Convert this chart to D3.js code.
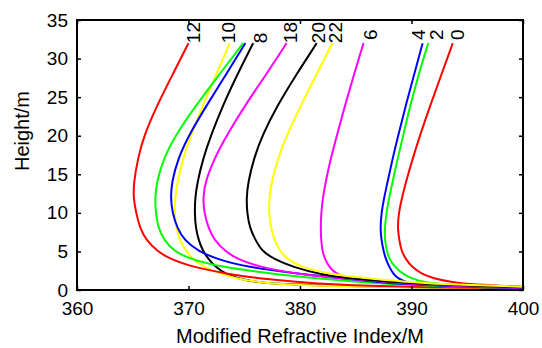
<!DOCTYPE html>
<html>
<head>
<meta charset="utf-8">
<script src="https://cdn.jsdelivr.net/npm/d3@7"></script>
<style>
body { margin: 0; background: #fff; }
text { font-family: Arial, "Liberation Sans", sans-serif; fill: #000; }
</style>
</head>
<body>
<svg id="chart" width="542" height="348"></svg>
<script>
const heights = [0.2, 0.4, 0.7, 1, 1.5, 2, 3, 4, 5, 6.5, 8, 10, 12, 14, 17, 20, 24, 28, 32];

// modified refractive index M for each hour
const m00 = [405, 400.5, 395.3, 393.7, 392.0, 391.0, 390.0, 389.5, 389.1, 388.9, 388.75, 388.85, 389.15, 389.5, 390.1, 390.75, 391.7, 392.7, 393.7];
const m02 = [402, 397, 393, 391.1, 390.0, 389.3, 388.5, 388.0, 387.8, 387.6, 387.6, 387.75, 388.0, 388.3, 388.75, 389.25, 389.9, 390.65, 391.5];
const m04 = [403, 396, 390.6, 389.5, 388.8, 388.4, 388.0, 387.7, 387.5, 387.3, 387.2, 387.3, 387.55, 387.85, 388.3, 388.8, 389.5, 390.25, 391.0];
const m06 = [404, 397, 390.5, 387.5, 384.4, 383.3, 382.6, 382.25, 382.0, 381.9, 381.85, 381.9, 382.05, 382.3, 382.75, 383.3, 384.05, 384.85, 385.7];
const m08 = [401, 386, 379, 376, 374.5, 373.4, 372.4, 371.8, 371.3, 370.9, 370.65, 370.55, 370.6, 370.8, 371.3, 372.0, 373.1, 374.4, 375.8];
const m10 = [401, 384.5, 378.5, 376.3, 374.3, 373.1, 371.3, 370.4, 369.8, 369.2, 368.9, 368.75, 368.8, 369.0, 369.5, 370.2, 371.3, 372.5, 373.7];
const m12 = [402, 388.5, 383, 380, 376.4, 373.8, 370.3, 368.4, 367.2, 366.2, 365.65, 365.3, 365.05, 365.1, 365.45, 366.0, 367.2, 368.6, 370.0];
const m14 = [402, 394, 389, 385.5, 381.8, 378, 372.8, 370.2, 368.7, 367.8, 367.3, 367.05, 367.0, 367.15, 367.75, 368.8, 370.7, 372.8, 374.9];
const m16 = [402, 395, 390, 387, 384, 380.5, 375.0, 372.6, 370.9, 369.6, 369.0, 368.55, 368.4, 368.5, 369.05, 370.0, 371.65, 373.4, 375.1];
const m18 = [403, 396, 391, 388, 384, 380, 376.3, 374.4, 373.3, 372.3, 371.8, 371.4, 371.3, 371.5, 372.3, 373.4, 375.1, 377.0, 378.8];
const m20 = [405, 398, 392, 388.8, 384.5, 381.9, 379.3, 377.7, 376.6, 376, 375.5, 375.25, 375.2, 375.35, 375.85, 376.6, 378.0, 379.7, 381.5];
const m22 = [407, 400, 393.5, 390, 386.3, 382.8, 380, 378.9, 378.2, 377.7, 377.4, 377.2, 377.25, 377.45, 378.0, 378.8, 380.1, 381.5, 382.9];

const hours = ["0", "2", "4", "6", "8", "10", "12", "14", "16", "18", "20", "22"];
const colors = ["#ff0000", "#00ff00", "#0000ff", "#ff00ff", "#000000", "#ffff00",
                "#ff0000", "#00ff00", "#0000ff", "#ff00ff", "#000000", "#ffff00"];
const series = [m00, m02, m04, m06, m08, m10, m12, m14, m16, m18, m20, m22];

// curve labels (placed by hand in the original)
const labelText = ["12", "10", "8", "18", "20", "22", "6", "4", "2", "0"];
const labelM = [369.84, 372.98, 375.81, 378.5, 381.05, 382.54, 385.68, 390.02, 391.6, 393.45];
const labelZ = [32, 32, 32, 32, 32, 32, 32.4, 32.4, 32.4, 32.4];

const xTicks = [360, 370, 380, 390, 400];
const yTicks = [0, 5, 10, 15, 20, 25, 30, 35];

const margin = {left: 77, right: 19, top: 20, bottom: 58};
const W = 542, H = 348;
const iw = W - margin.left - margin.right, ih = H - margin.top - margin.bottom;

const svg = d3.select("#chart");
const g = svg.append("g").attr("transform", "translate(" + margin.left + "," + margin.top + ")");

const x = d3.scaleLinear().domain([360, 400]).range([0, iw]);
const y = d3.scaleLinear().domain([0, 35]).range([ih, 0]);

g.append("clipPath").attr("id", "clip")
  .append("rect").attr("width", iw).attr("height", ih);

const line = d3.line()
  .x(d => x(d.m))
  .y(d => y(d.z))
  .curve(d3.curveBasis);

series.forEach(function(vals, i) {
  const pts = heights.map((z, j) => ({z: z, m: vals[j]})).reverse();
  g.append("path")
    .attr("clip-path", "url(#clip)")
    .attr("d", line(pts))
    .attr("fill", "none")
    .attr("stroke", colors[i])
    .attr("stroke-width", 2);
});

// axes, matlab style: ticks inside, box all round
const fs = 19;
const xAxis = g.append("g").attr("transform", "translate(0," + ih + ")")
  .call(d3.axisBottom(x).tickValues(xTicks).tickSize(-4).tickPadding(12));
const yAxis = g.append("g")
  .call(d3.axisLeft(y).tickValues(yTicks).tickSize(-4).tickPadding(9));
g.append("g").call(d3.axisTop(x).tickValues(xTicks).tickSize(-4).tickFormat(""));
g.append("g").attr("transform", "translate(" + iw + ",0)")
  .call(d3.axisRight(y).tickValues(yTicks).tickSize(-4).tickFormat(""));

g.selectAll(".domain").remove();
g.selectAll(".tick line").attr("stroke", "#000").attr("stroke-width", 1.5);
g.selectAll(".tick text").attr("font-size", fs).attr("font-family", "Arial, 'Liberation Sans', sans-serif").attr("fill", "#000");
xAxis.selectAll(".tick text").attr("dy", "0.71em");

g.append("rect").attr("width", iw).attr("height", ih)
  .attr("fill", "none").attr("stroke", "#000").attr("stroke-width", 2);

// curve labels
labelText.forEach(function(t, i) {
  const px = x(labelM[i]), py = y(labelZ[i]);
  g.append("text")
    .attr("transform", "translate(" + px + "," + py + ") rotate(-90)")
    .attr("dy", "0.72em")
    .attr("font-size", fs)
    .text(t);
});

svg.append("text")
  .attr("x", margin.left + iw / 2).attr("y", 343)
  .attr("text-anchor", "middle").attr("font-size", 20)
  .text("Modified Refractive Index/M");

svg.append("text")
  .attr("transform", "translate(28.5,131) rotate(-90)")
  .attr("text-anchor", "middle").attr("font-size", 20)
  .text("Height/m");
</script>
</body>
</html>
